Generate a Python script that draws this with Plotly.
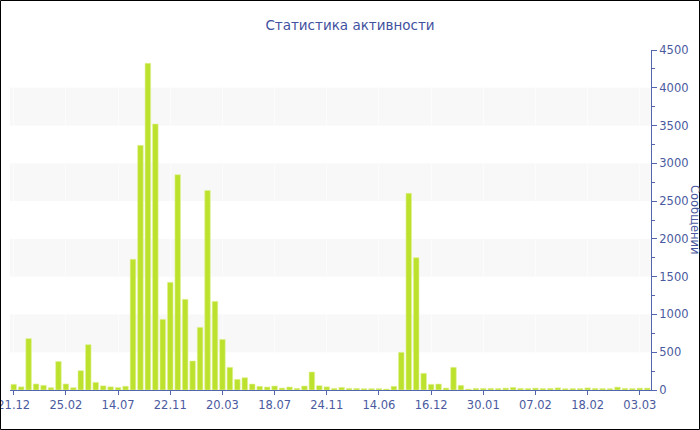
import plotly.graph_objects as go

title_text = "Статистика активности"
y_title = "Сообщений"

tick_labels = ["21.12", "25.02", "14.07", "22.11", "20.03", "18.07", "24.11",
               "14.06", "16.12", "30.01", "07.02", "18.02", "03.03"]
tick_step = 7

values = [
    75, 42, 680, 80, 62, 31, 378, 80, 31, 256,
    600, 101, 55, 42, 33, 50, 1729, 3238, 4324, 3521,
    935, 1425, 2850, 1200, 384, 829, 2642, 1173, 670, 300,
    141, 163, 79, 49, 40, 53, 26, 40, 22, 53,
    238, 57, 42, 22, 35, 22, 22, 18, 18, 18,
    13, 49, 499, 2603, 1752, 221, 75, 79, 26, 300,
    62, 13, 22, 22, 22, 20, 25, 35, 22, 20,
    25, 20, 22, 28, 18, 20, 20, 28, 22, 20,
    18, 38, 22, 20, 25, 25,
]

x_idx = list(range(len(values)))
tick_vals = [i * tick_step for i in range(len(tick_labels))]

bands = [(500, 1000), (1500, 2000), (2500, 3000), (3500, 4000)]

axis_color = "#5265ad"
text_color = "#4a5a9e"
font_family = "DejaVu Sans, Verdana, sans-serif"

fig = go.Figure()
fig.add_trace(go.Bar(
    x=x_idx, y=values,
    marker=dict(color="#bde22e", line=dict(color="#e2f29a", width=0.6)),
    hoverinfo="y",
))

shapes = []
for y0, y1 in bands:
    shapes.append(dict(type="rect", xref="paper", yref="y", x0=0, x1=1, y0=y0, y1=y1,
                       fillcolor="#f8f8f8", line=dict(width=0), layer="below"))

# outer border of the picture
L, R, T, B = 10, 49, 50, 40
W, H = 700, 430
pw, ph = W - L - R, H - T - B
shapes.append(dict(type="rect", xref="paper", yref="paper",
                   x0=(0.5 - L) / pw, x1=(W - 0.5 - L) / pw,
                   y0=-(B - 0.5) / ph, y1=(H - B - 0.5) / ph,
                   line=dict(color="#000000", width=1), fillcolor="rgba(0,0,0,0)", layer="above"))

fig.update_layout(
    width=W, height=H,
    margin=dict(l=L, r=R, t=T, b=B, autoexpand=False),
    paper_bgcolor="white", plot_bgcolor="white",
    showlegend=False,
    bargap=0.25,
    shapes=shapes,
    font=dict(family=font_family, color=text_color, size=11.5),
    title=dict(text=title_text, x=0.5, xref="container", xanchor="center",
               y=1 - 25 / H, yanchor="middle",
               font=dict(family=font_family, size=13.5, color="#3f51a0")),
    xaxis=dict(
        range=[-0.5, len(values) - 0.5],
        tickmode="array", tickvals=tick_vals, ticktext=tick_labels,
        showline=True, linecolor=axis_color, linewidth=1,
        ticks="outside", ticklen=4, tickcolor=axis_color,
        showgrid=True, gridcolor="rgba(255,255,255,0.6)", gridwidth=1,
        zeroline=False, ticklabeloverflow="allow",
        tickfont=dict(size=11.5, color=text_color),
    ),
    yaxis=dict(
        side="right", range=[0, 4500],
        tickmode="linear", tick0=0, dtick=500,
        showline=True, linecolor=axis_color, linewidth=1,
        ticks="outside", ticklen=5, tickcolor=axis_color,
        minor=dict(ticks="outside", ticklen=3, dtick=250, tickcolor=axis_color, showgrid=False),
        showgrid=False, zeroline=False, ticklabeloverflow="allow",
        tickfont=dict(size=11.5, color=text_color),
    ),
    annotations=[dict(
        text=y_title, xref="paper", yref="paper",
        x=(695 - L) / pw, y=0.5, xanchor="center", yanchor="middle",
        textangle=90, showarrow=False,
        font=dict(family=font_family, size=11.5, color=text_color),
    )],
)

fig.write_html("out.html", config={"displayModeBar": False},
               post_script="document.body.style.margin='0';document.body.style.overflow='hidden';")
